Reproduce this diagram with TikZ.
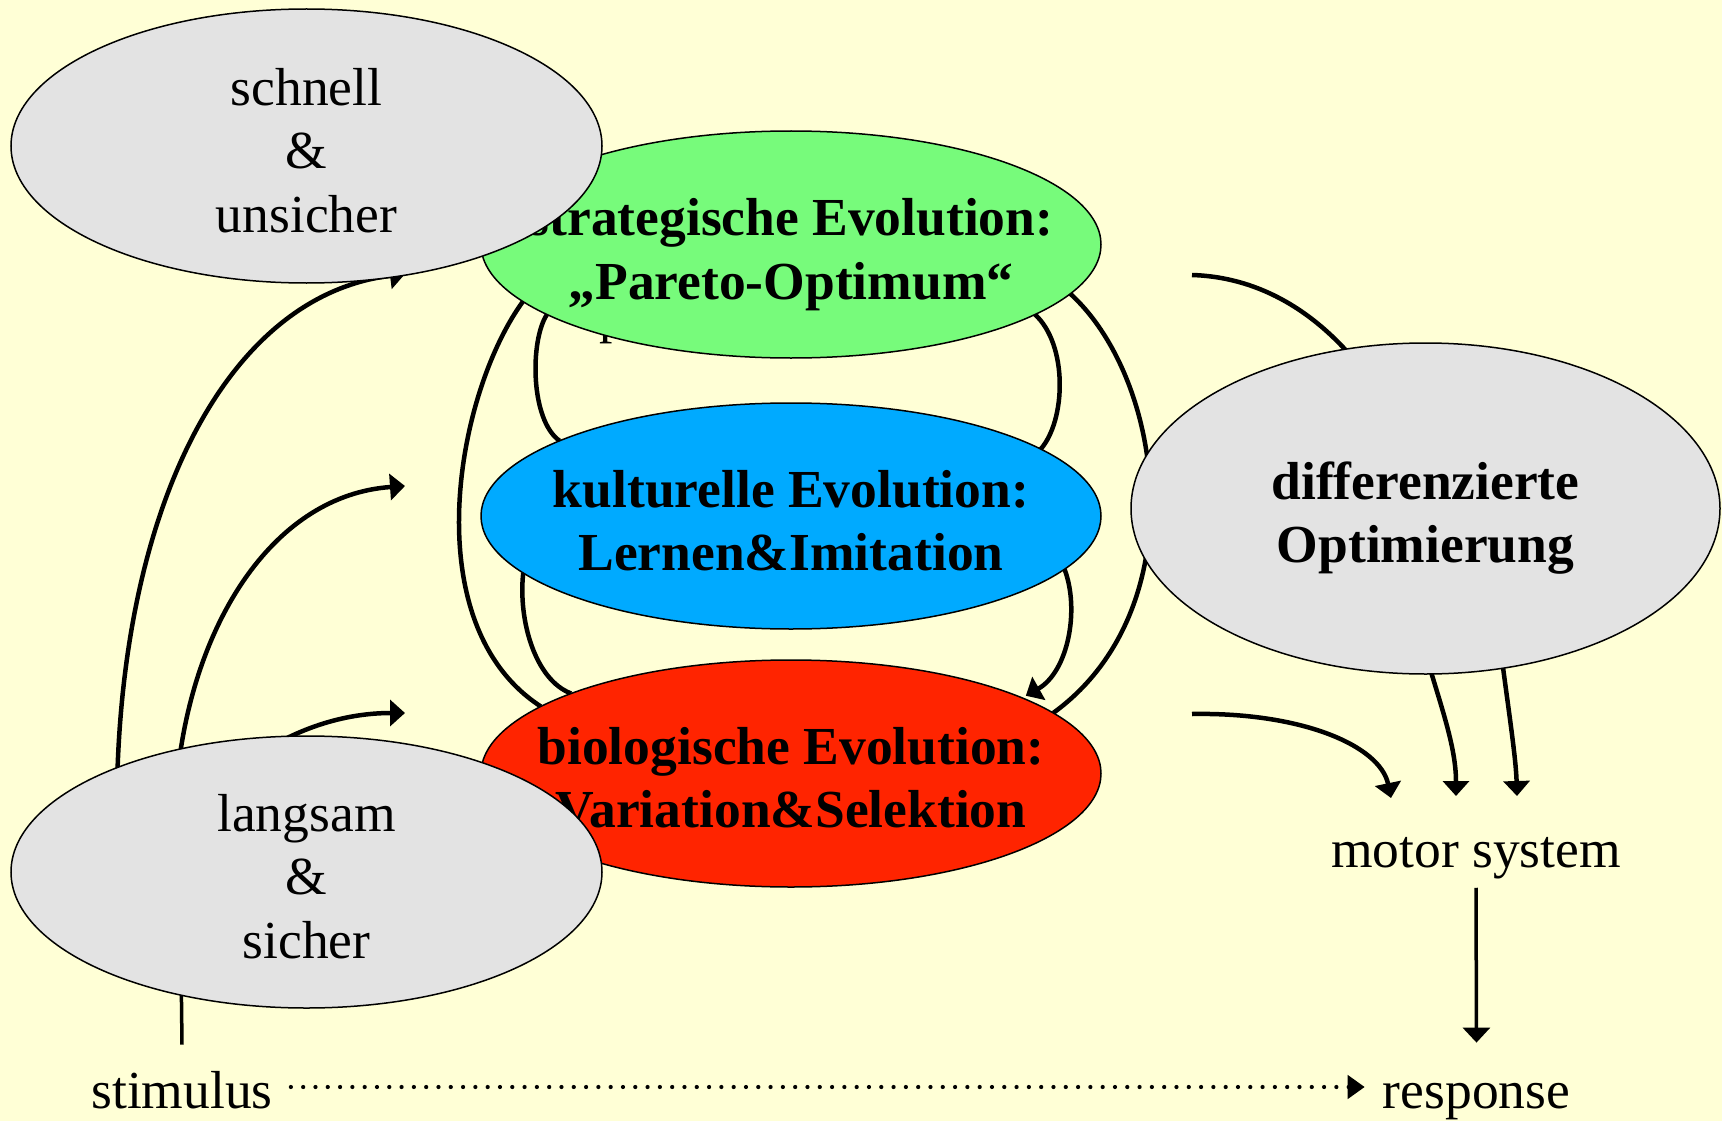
\documentclass[tikz,border=0pt]{standalone}
\usepackage{fontspec}
\setmainfont{Liberation Serif}
\usetikzlibrary{shapes.geometric,arrows.meta,calc}
\pgfdeclarelayer{back}
\pgfdeclarelayer{bg}
\pgfsetlayers{back,bg,main}
\definecolor{cbg}{HTML}{FFFFD6}
\definecolor{cgreen}{HTML}{77FB7B}
\definecolor{cblue}{HTML}{00AAFF}
\definecolor{cred}{HTML}{FF2400}
\definecolor{cgray}{HTML}{E3E3E3}
\begin{document}
\begin{tikzpicture}[x=1pt,y=-1pt,
  el/.style={ellipse, draw=black, line width=1.5pt, inner sep=0pt, outer sep=0pt},
  txt/.style={font=\fontsize{53.5}{63.5}\selectfont, align=center, inner sep=0pt},
  txtb/.style={font=\fontsize{53.5}{63.5}\selectfont\bfseries, align=center, inner sep=0pt},
  intxt/.style={yshift=-4.5pt},
  conn/.style={line width=4.5pt},
  arr/.style={conn, -{Triangle[length=15pt,width=26pt]}},
  thinarr/.style={line width=3.5pt, -{Triangle[length=15pt,width=27pt]}},
  dotarr/.style={line width=4.2pt, line cap=round, dash pattern=on 0pt off 12.3pt, -{Triangle[length=17pt,width=23pt]}}
]
\useasboundingbox (0,0) rectangle (1722,1121);
\begin{pgfonlayer}{back}
\fill[cbg] (0,0) rectangle (1722,1121);
\end{pgfonlayer}

% nodes
\node[txt, anchor=base west] (hidp) at (599,332) {p};
\node[el, fill=cgreen, minimum width=620pt, minimum height=227pt] (green) at (791,244.5) {};
\node[txtb, intxt] (greent) at (green.center) {strategische Evolution:\\\raisebox{0pt}[\height][0pt]{„Pareto-Optimum“}};
\node[el, fill=cblue, minimum width=620pt, minimum height=226pt] (blue) at (791,516) {};
\node[txtb, intxt] (bluet) at (blue.center) {kulturelle Evolution:\\Lernen\&Imitation};
\node[el, fill=cred, minimum width=620pt, minimum height=227pt] (red) at (791,773.5) {};
\node[txtb, intxt] (redt) at (red.center) {biologische Evolution:\\Variation\&Selektion};
\node[el, fill=cgray, minimum width=591pt, minimum height=274pt] (fast) at (306.5,146) {};
\node[txt, intxt] (fastt) at (fast.center) {schnell\\\&\\unsicher};
\node[el, fill=cgray, minimum width=591pt, minimum height=272pt] (slow) at (306.5,872) {};
\node[txt, intxt] (slowt) at (slow.center) {langsam\\\&\\sicher};
\node[el, fill=cgray, minimum width=589pt, minimum height=331pt] (diff) at (1425.5,508.5) {};
\node[txtb, yshift=-3.5pt] (difft) at (diff.center) {differenzierte\\\raisebox{0pt}[\height][0pt]{Optimierung}};
\node[txt, anchor=base] (motor) at (1476,867) {motor system};
\node[txt, anchor=base] (stim) at (182,1108) {stimulus};
\node[txt, anchor=base] (resp) at (1476.5,1108) {response};

\begin{pgfonlayer}{bg}
% left fan from stimulus
\coordinate (junc) at (181,960);
\coordinate (tA) at (405,274);
\coordinate (tB) at (405,486);
\coordinate (tC) at (405,713);
\draw[line width=3.5pt] ([yshift=26pt]stim.north) -- (junc);
\draw[arr] (junc) -- (117,790) .. controls (122,500) and (230,295) .. (tA);
\draw[arr] (junc) -- (178,770) .. controls (195,620) and (275,495) .. (tB);
\draw[arr] (junc) -- (250,760) .. controls (300,725) and (350,713) .. (tC);

% arcs between evolution ellipses
\draw[conn] (green.192.6) .. controls (455,395) and (415,625) .. (red.165.3);
\draw[conn] (green.196.5) .. controls (530,340) and (530,420) .. (blue.162.8);
\draw[conn] (blue.192.55) .. controls (518,620) and (535,680) .. (red.160);
\draw[conn] (green.344.2) .. controls (1068,345) and (1066,420) .. (blue.15);
\draw[arr] (blue.349.8) .. controls (1080,610) and (1068,672) .. ([xshift=9pt]red.19);
\draw[conn] (green.350.7) .. controls (1165,380) and (1195,610) .. (red.13);

% right side
\coordinate (s1) at (1192,275);
\coordinate (s2) at (1192,714);
\coordinate (h1) at (1400,430);
\coordinate (m1) at (1391,798);
\coordinate (m2) at (1456,796);
\coordinate (m3) at (1517,796);
\draw[arr] (s1) .. controls (1290,278) and (1360,350) .. (h1) -- (1502,660) .. controls (1510,720) and (1516,760) .. (m3);
\draw[arr] (h1) -- (1428,662) .. controls (1444,715) and (1456,750) .. (m2);
\draw[arr] (s2) .. controls (1300,712) and (1380,745) .. (m1);
\draw[thinarr] ([yshift=-9pt]motor.south) -- ([yshift=40pt]resp.north);
\draw[dotarr] ([xshift=18pt,yshift=21pt]stim.base east) -- ([xshift=-18pt,yshift=21pt]resp.base west);
\end{pgfonlayer}
\end{tikzpicture}
\end{document}
